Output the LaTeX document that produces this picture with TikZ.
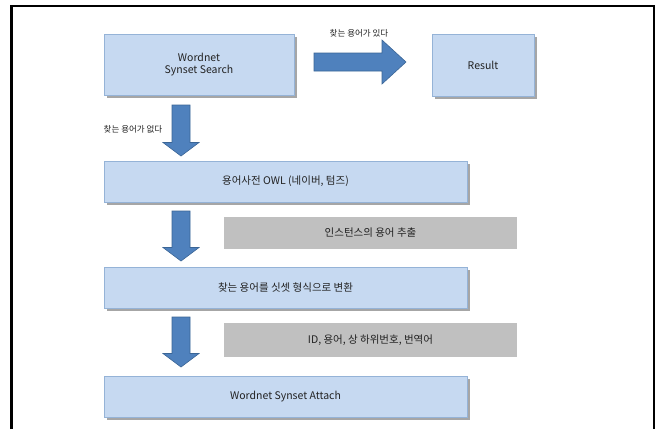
\documentclass[tikz,border=0pt]{standalone}
\usepackage{fontspec}
\setmainfont{Noto Sans CJK KR}
\usetikzlibrary{calc,shadows}
\definecolor{boxfill}{HTML}{C6D9F1}
\definecolor{boxline}{HTML}{95B3D7}
\definecolor{notefill}{HTML}{C0C0C0}
\definecolor{arrowfill}{HTML}{4F81BD}
\definecolor{arrowline}{HTML}{3A6596}
\definecolor{shade}{HTML}{A6A6A6}
\definecolor{txt}{HTML}{222222}
\begin{document}
\begin{tikzpicture}[x=1pt,y=-1pt,
  box/.style={draw=boxline,fill=boxfill,line width=0.8pt,inner sep=0pt,align=center,text=txt,
    font=\fontsize{10.5}{12.6}\selectfont,
    drop shadow={shadow xshift=3pt,shadow yshift=-3pt,fill=shade,opacity=1}},
  note/.style={fill=notefill,inner sep=0pt,text=txt,font=\fontsize{10.5}{12.6}\selectfont},
  lab/.style={text=txt,font=\fontsize{8.5}{10}\selectfont},
  blk/.style={fill=arrowfill,draw=arrowline,line width=0.6pt}]
\useasboundingbox (0,0) rectangle (660,429);
\fill[white] (0,0) rectangle (660,429);
\draw[line width=2.5pt] (11.5,429) -- (11.5,6.2) -- (654,6.2) -- (654,429);
% boxes
\node[box,minimum width=190,minimum height=61] (srch) at (199,64.5) {Wordnet\\Synset Search};
\node[box,minimum width=102,minimum height=62] (res) at (483,65) {Result};
\foreach \n/\y/\t in {owl/181.5/{용어사전 OWL (네이버, 텀즈)},conv/287.5/{찾는 용어를 싯셋 형식으로 변환},att/396.5/{Wordnet Synset Attach}}{
  \node[box,minimum width=363,minimum height=41] (\n) at (285.5,\y) {\t};}
\node[note,minimum width=293,minimum height=32] (ext) at (370.5,233) {인스턴스의 용어 추출};
\node[note,minimum width=293,minimum height=34] (ids) at (370.5,340) {ID, 용어, 상 하위번호, 번역어};
% block arrows
\coordinate (rs) at (314,62); \coordinate (re) at (406,62);
\draw[blk] ($(rs)+(0,-9)$) -- ($(re)+(-24,-9)$) -- ($(re)+(-24,-22)$) -- (re)
  -- ($(re)+(-24,22)$) -- ($(re)+(-24,9)$) -- ($(rs)+(0,9)$) -- cycle;
\coordinate (d1s) at (181,105); \coordinate (d1e) at (181,156);
\coordinate (d2s) at (181,211); \coordinate (d2e) at (181,261);
\coordinate (d3s) at (181,317); \coordinate (d3e) at (181,367);
\foreach \a/\b in {d1s/d1e,d2s/d2e,d3s/d3e}{
  \draw[blk] ($(\a)+(-9,0)$) -- ($(\a)+(9,0)$) -- ($(\b)+(9,-13.5)$) -- ($(\b)+(18,-13.5)$) -- (\b)
    -- ($(\b)+(-18,-13.5)$) -- ($(\b)+(-9,-13.5)$) -- cycle;}
\node[lab] (yes) at (359,33) {찾는 용어가 있다};
\node[lab] (no) at (133,129) {찾는 용어가 없다};
\end{tikzpicture}
\end{document}
